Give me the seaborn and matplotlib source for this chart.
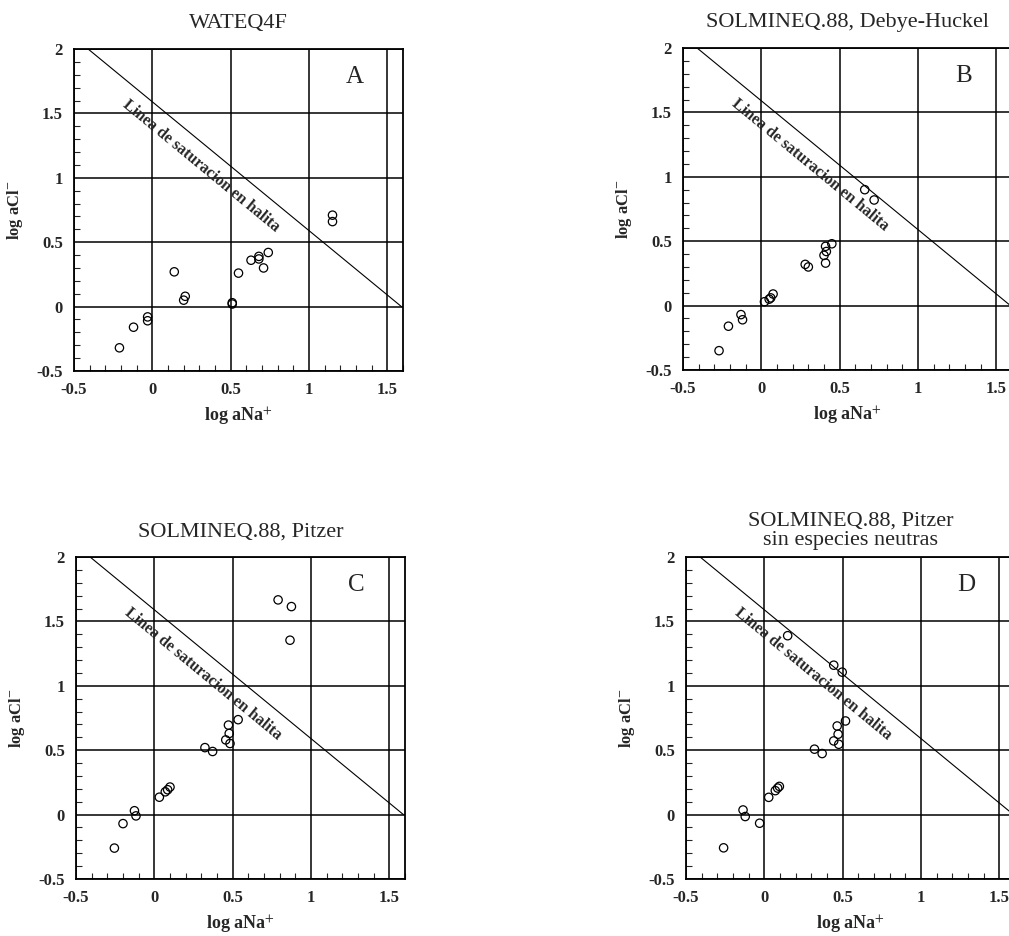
import numpy as np
import pandas as pd
import seaborn as sns
import matplotlib.pyplot as plt
from matplotlib.ticker import MultipleLocator

sns.set_style("white")
plt.rcParams['font.family'] = ['Liberation Serif', 'DejaVu Serif']
plt.rcParams['mathtext.fontset'] = 'stix'

# halite saturation line (log K ~ 1.59)
halite_x = [-0.41, 1.59]
halite_y = [2.0, 0.0]

# panel A - WATEQ4F
a_x = [-0.21, -0.12, -0.03, -0.03, 0.14, 0.20, 0.21, 0.51, 0.51, 0.55, 0.63, 0.68, 0.68, 0.71, 0.74, 1.15, 1.15]
a_y = [-0.32, -0.16, -0.11, -0.08, 0.27, 0.05, 0.08, 0.02, 0.03, 0.26, 0.36, 0.39, 0.37, 0.30, 0.42, 0.71, 0.66]

# panel B - SOLMINEQ.88, Debye-Huckel
b_x = [-0.27, -0.21, -0.13, -0.12, 0.02, 0.05, 0.06, 0.075, 0.28, 0.30, 0.41, 0.415, 0.40, 0.41, 0.45, 0.66, 0.72]
b_y = [-0.35, -0.16, -0.07, -0.11, 0.03, 0.05, 0.06, 0.09, 0.32, 0.30, 0.46, 0.42, 0.39, 0.33, 0.48, 0.90, 0.82]

# panel C - SOLMINEQ.88, Pitzer
c_x = [-0.255, -0.20, -0.127, -0.117, 0.032, 0.07, 0.085, 0.10, 0.323, 0.372, 0.456, 0.473, 0.478, 0.483, 0.535, 0.79, 0.875, 0.866]
c_y = [-0.26, -0.07, 0.03, -0.01, 0.135, 0.177, 0.193, 0.214, 0.52, 0.49, 0.58, 0.695, 0.63, 0.552, 0.737, 1.667, 1.615, 1.354]

# panel D - SOLMINEQ.88, Pitzer sin especies neutras
d_x = [-0.26, -0.136, -0.122, -0.03, 0.028, 0.07, 0.085, 0.096, 0.32, 0.369, 0.443, 0.465, 0.471, 0.475, 0.518, 0.149, 0.443, 0.497]
d_y = [-0.258, 0.036, -0.015, -0.067, 0.134, 0.186, 0.206, 0.219, 0.508, 0.474, 0.572, 0.688, 0.624, 0.546, 0.727, 1.389, 1.16, 1.106]

titles = ["WATEQ4F", "SOLMINEQ.88, Debye-Huckel", "SOLMINEQ.88, Pitzer",
          "SOLMINEQ.88, Pitzer\nsin especies neutras"]
letters = ["A", "B", "C", "D"]
xs = [a_x, b_x, c_x, d_x]
ys = [a_y, b_y, c_y, d_y]

W, H = 1009, 936
# axes boxes in pixels: left, top
boxes = [(74, 49), (683, 48), (76, 557), (686, 557)]
aw, ah = 329, 322

fig = plt.figure(figsize=(W / 100, H / 100), dpi=100)

for i in range(4):
    l, t = boxes[i]
    ax = fig.add_axes([l / W, 1 - (t + ah) / H, aw / W, ah / H])
    df = pd.DataFrame({'x': xs[i], 'y': ys[i]})
    sns.lineplot(x=halite_x, y=halite_y, ax=ax, color='black', lw=0.8)
    sns.scatterplot(data=df, x='x', y='y', ax=ax, s=36, facecolor='none',
                    edgecolor='black', linewidth=0.9, zorder=3)
    ax.set_xlim(-0.5, 1.6)
    ax.set_ylim(-0.5, 2.0)
    ax.set_xticks([-0.5, 0, 0.5, 1, 1.5])
    ax.set_xticklabels(['-0.5', '0', '0.5', '1', '1.5'])
    ax.set_yticks([-0.5, 0, 0.5, 1, 1.5, 2])
    ax.set_yticklabels(['-0.5', '0', '0.5', '1', '1.5', '2'])
    ax.xaxis.set_minor_locator(MultipleLocator(0.1))
    ax.yaxis.set_minor_locator(MultipleLocator(0.1))
    ax.tick_params(which='major', direction='in', length=0, labelsize=12, pad=8)
    ax.tick_params(which='minor', direction='in', length=4, width=0.8,
                   bottom=True, left=True)
    for lab in ax.get_xticklabels() + ax.get_yticklabels():
        lab.set_fontweight('bold')
    ax.grid(True, which='major', color='black', lw=1.1)
    for s in ax.spines.values():
        s.set_color('black')
        s.set_linewidth(1.3)
    ax.set_xlabel('log aNa$^{+}$', fontsize=13, fontweight='bold', labelpad=5)
    ax.set_ylabel('log aCl$^{-}$', fontsize=12, fontweight='bold', labelpad=8)
    ax.set_title(titles[i], fontsize=16, pad=15 if i < 3 else 9, linespacing=1.0)
    ax.text(1.29, 1.78, letters[i], fontsize=18, ha='center', va='center')
    ax.text(0.31, 1.09, 'Linea de saturacion en halita', fontsize=11.5,
            fontweight='bold', rotation=-39.5, ha='center', va='center',
            rotation_mode='anchor')

fig.savefig('out.png', dpi=100)
